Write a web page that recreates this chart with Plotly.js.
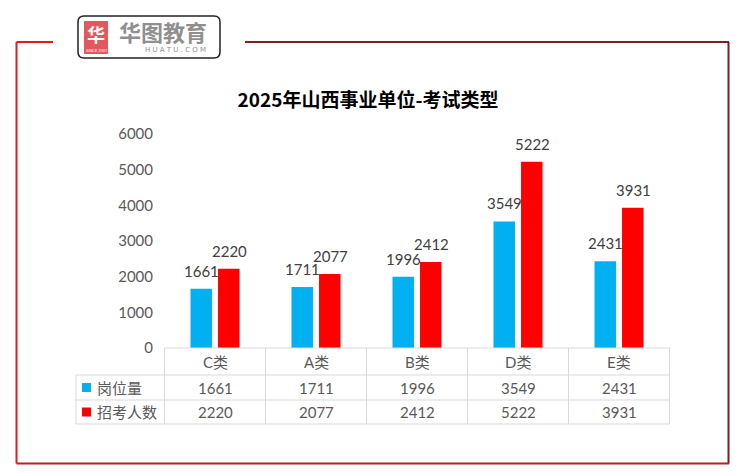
<!DOCTYPE html>
<html>
<head>
<meta charset="utf-8">
<script src="https://cdn.plot.ly/plotly-3.0.1.min.js"></script>
<style>html,body{margin:0;padding:0;background:#fff}#chart{width:746px;height:476px}</style>
</head>
<body>
<div id="chart"></div>
<script>
var categories = ["C类", "A类", "B类", "D类", "E类"];
var seriesNames = ["岗位量", "招考人数"];
var posts = [1661, 1711, 1996, 3549, 2431];
var applicants = [2220, 2077, 2412, 5222, 3931];
var yTicks = [0, 1000, 2000, 3000, 4000, 5000, 6000];
var titleText = "2025年山西事业单位-考试类型";

var W = 746, H = 476;
var L = 164, R = 670, T = 134, B = 348;
function px(x) { return (x - L) / (R - L); }
function py(y) { return (B - y) / (B - T); }

var colors = ["#00b0f0", "#ff0000"];
var fontFam = "Lato, 'Noto Sans CJK SC', sans-serif";
var grey = "#595959";
var lineC = "#d9d9d9";

var traces = [
  {type: "bar", name: seriesNames[0], x: categories, y: posts, marker: {color: colors[0]}, hoverinfo: "x+y"},
  {type: "bar", name: seriesNames[1], x: categories, y: applicants, marker: {color: colors[1]}, hoverinfo: "x+y"}
];

var annotations = [];
var shapes = [];
var series = [posts, applicants];

// data labels
series.forEach(function (vals, s) {
  vals.forEach(function (v, i) {
    annotations.push({x: categories[i], y: v, xref: "x", yref: "y", text: String(v), showarrow: false,
      xshift: s === 0 ? -13.5 : 14, yshift: 18, xanchor: "center", yanchor: "middle",
      font: {family: fontFam, size: 15, color: "#404040"}});
  });
});

// data table
var rowY = [348, 375, 400, 424];
categories.forEach(function (c, i) {
  annotations.push({x: c, y: py((rowY[0] + rowY[1]) / 2), xref: "x", yref: "paper", text: c, showarrow: false,
    xanchor: "center", yanchor: "middle", font: {family: fontFam, size: 15, color: grey}});
  series.forEach(function (vals, s) {
    annotations.push({x: c, y: py((rowY[s + 1] + rowY[s + 2]) / 2), xref: "x", yref: "paper", text: String(vals[i]),
      showarrow: false, xanchor: "center", yanchor: "middle", font: {family: fontFam, size: 15, color: grey}});
  });
});
seriesNames.forEach(function (n, s) {
  var cy = (rowY[s + 1] + rowY[s + 2]) / 2;
  shapes.push({type: "rect", xref: "paper", yref: "paper", x0: px(82), x1: px(91), y0: py(cy - 4.5), y1: py(cy + 4.5),
    fillcolor: colors[s], line: {width: 0}});
  annotations.push({x: px(95), y: py(cy), xref: "paper", yref: "paper", text: n, showarrow: false,
    xanchor: "left", yanchor: "middle", font: {family: fontFam, size: 15, color: grey}});
});
// table lines
for (var k = 0; k <= categories.length; k++) {
  shapes.push({type: "line", xref: "x", yref: "paper", x0: k - 0.5, x1: k - 0.5, y0: py(rowY[0]), y1: py(rowY[3]),
    line: {color: lineC, width: 1}});
}
shapes.push({type: "line", xref: "paper", yref: "paper", x0: px(76), x1: px(76), y0: py(rowY[1]), y1: py(rowY[3]),
  line: {color: lineC, width: 1}});
shapes.push({type: "line", xref: "paper", yref: "paper", x0: 0, x1: 1, y0: py(rowY[0]), y1: py(rowY[0]),
  line: {color: lineC, width: 1}});
for (var r = 1; r < 4; r++) {
  shapes.push({type: "line", xref: "paper", yref: "paper", x0: px(76), x1: 1, y0: py(rowY[r]), y1: py(rowY[r]),
    line: {color: lineC, width: 1}});
}

// frame
var red = "#e31b1b", dark = "#7a2020";
shapes.push({type: "line", xref: "paper", yref: "paper", x0: px(16.5), x1: px(16.5), y0: py(42), y1: py(463.5), line: {color: red, width: 2}});
shapes.push({type: "line", xref: "paper", yref: "paper", x0: px(16.5), x1: px(53), y0: py(42), y1: py(42), line: {color: red, width: 2}});
shapes.push({type: "line", xref: "paper", yref: "paper", x0: px(16.5), x1: px(729), y0: py(463.5), y1: py(463.5), line: {color: "#b52222", width: 2}});
shapes.push({type: "line", xref: "paper", yref: "paper", x0: px(245), x1: px(729), y0: py(42), y1: py(42), line: {color: dark, width: 2}});
shapes.push({type: "line", xref: "paper", yref: "paper", x0: px(728.5), x1: px(728.5), y0: py(42), y1: py(463.5), line: {color: dark, width: 2}});

// logo
function rr(x0, y0, x1, y1, rad) {
  var a = px(x0), b = px(x1), c = py(y0), d = py(y1);
  var rx = rad / (R - L), ry = rad / (B - T);
  return "M" + (a + rx) + "," + c + " L" + (b - rx) + "," + c + " Q" + b + "," + c + " " + b + "," + (c - ry) +
    " L" + b + "," + (d + ry) + " Q" + b + "," + d + " " + (b - rx) + "," + d + " L" + (a + rx) + "," + d +
    " Q" + a + "," + d + " " + a + "," + (d + ry) + " L" + a + "," + (c - ry) + " Q" + a + "," + c + " " + (a + rx) + "," + c + " Z";
}
shapes.push({type: "path", xref: "paper", yref: "paper", path: rr(78, 16, 220, 58, 6), fillcolor: "#fff", line: {color: "#222", width: 1.5}});
shapes.push({type: "rect", xref: "paper", yref: "paper", x0: px(84), x1: px(108), y0: py(21), y1: py(54), fillcolor: "#e2585d", line: {width: 0}});
annotations.push({x: px(96), y: py(34), xref: "paper", yref: "paper", text: "<b>华</b>", showarrow: false, xanchor: "center", yanchor: "middle",
  font: {family: "'Noto Sans CJK SC'", size: 18, color: "#fff"}});
annotations.push({x: px(96), y: py(50.5), xref: "paper", yref: "paper", text: "SINCE 2001", showarrow: false, xanchor: "center", yanchor: "middle",
  font: {family: "Roboto", size: 4, color: "#fff"}});
annotations.push({x: px(163), y: py(31.5), xref: "paper", yref: "paper", text: "<b>华图教育</b>", showarrow: false, xanchor: "center", yanchor: "middle",
  font: {family: "'Noto Sans CJK SC'", size: 22, color: "#8f8f8f"}});
annotations.push({x: px(175), y: py(50), xref: "paper", yref: "paper", text: "H U A T U . C O M", showarrow: false, xanchor: "center", yanchor: "middle",
  font: {family: "'DejaVu Sans'", size: 7, color: "#8f8f8f"}});

var layout = {
  width: W, height: H,
  margin: {l: L, r: W - R, t: T, b: H - B, pad: 0},
  paper_bgcolor: "#fff", plot_bgcolor: "#fff",
  showlegend: false,
  bargap: 0.455, bargroupgap: 0.22, barmode: "group",
  title: {text: "<b>" + titleText + "</b>", xref: "container", x: 368 / W, xanchor: "center", yref: "container", y: 1 - 100 / H, yanchor: "middle",
    font: {family: "'Noto Sans CJK SC', sans-serif", size: 19, color: "#000"}},
  xaxis: {type: "category", showticklabels: false, showline: false, showgrid: false, zeroline: false, ticks: ""},
  yaxis: {range: [0, 6000], tickvals: yTicks, ticktext: yTicks.map(String), showgrid: false, zeroline: false, showline: false,
    ticks: "", ticklabelstandoff: 10, tickfont: {family: fontFam, size: 15, color: grey}},
  shapes: shapes,
  annotations: annotations
};
Plotly.newPlot("chart", traces, layout, {displayModeBar: false, staticPlot: true});
</script>
</body>
</html>
